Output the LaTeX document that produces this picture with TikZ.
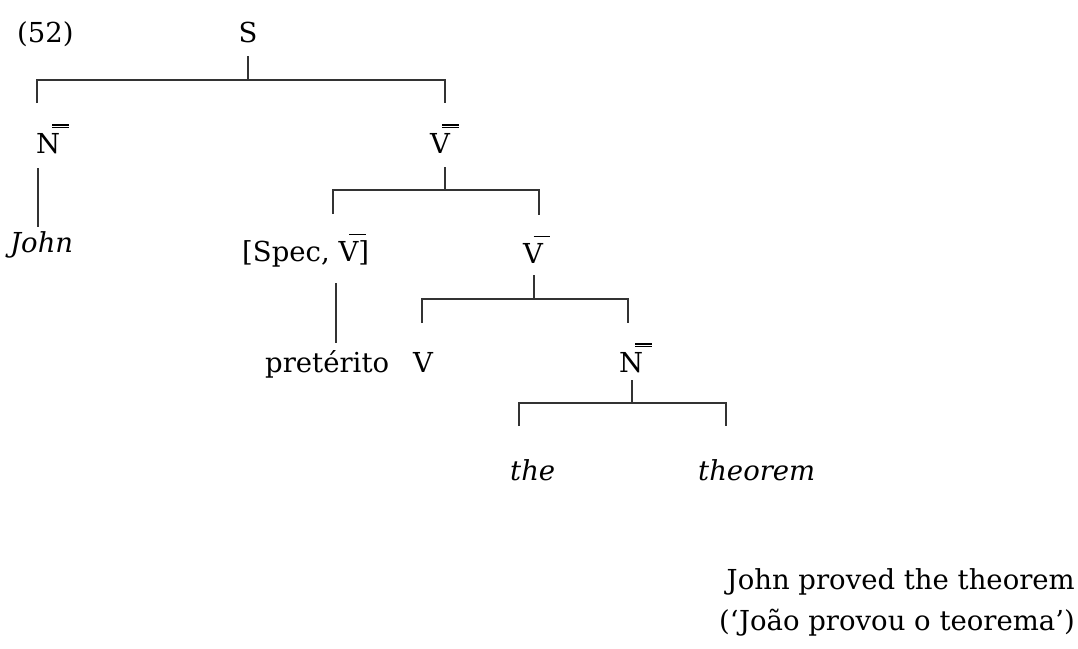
\documentclass[tikz,border=0pt]{standalone}
\usepackage{fontspec}
\setmainfont{DejaVu Serif}
\usepackage{tikz}
\usetikzlibrary{positioning}

% bars over a category label
\newcommand{\sbar}[1]{#1\makebox[0pt][l]{\kern-0.34em\rule[0.93em]{0.6em}{0.05em}}}
\newcommand{\dbar}[1]{#1\makebox[0pt][l]{\kern-0.3em\rule[0.9em]{0.62em}{0.05em}}%
  \makebox[0pt][l]{\kern-0.3em\rule[1.0em]{0.62em}{0.05em}}}

\tikzset{
  lbl/.style={inner sep=0pt, anchor=base west, font=\fontsize{27.5}{33}\selectfont},
  branch/.style={line width=1.4pt, black!80}
}

\begin{document}
\begin{tikzpicture}[x=1pt, y=-1pt]
  \useasboundingbox (0,0) rectangle (1078,648);
  \node[lbl] (nEx) at (17,42) {(52)};
  \node[lbl, anchor=base] (nS) at (248,42) {S};
  \node[lbl] (nNa) at (36,153) {\dbar{N}};
  \node[lbl] (nVa) at (430,153) {\dbar{V}};
  \node[lbl] (nJohn) at (10,252) {\itshape John};
  \node[lbl] (nSpec) at (242,261) {[Spec, \sbar{V}]};
  \node[lbl] (nVb) at (523,263) {\sbar{V}};
  \node[lbl] (nPret) at (265,372) {pretérito};
  \node[lbl] (nV) at (413,372) {V};
  \node[lbl] (nNb) at (619,372) {\dbar{N}};
  \node[lbl] (nThe) at (510,480) {\itshape the};
  \node[lbl] (nTheorem) at (698,480) {\itshape theorem};
  \node[lbl, anchor=base east] (nGloss) at (1075,589) {John proved the theorem};
  \node[lbl, anchor=base east] (nTrans) at (1075,630) {(‘João provou o teorema’)};

  % forks
  \coordinate (sL) at (37,80);
  \coordinate (sR) at (445,80);
  \coordinate (vaL) at (333,190);
  \coordinate (vaR) at (539,190);
  \coordinate (vbL) at (422,299);
  \coordinate (vbR) at (628,299);
  \coordinate (nbL) at (519,403);
  \coordinate (nbR) at (726,403);

  % S
  \draw[branch] (nS.base) ++(0,14) -- ++(0,24);
  \draw[branch] (sL) ++(0,23) -- (sL) -- (sR) -- ++(0,23);
  % N -- John
  \draw[branch] (nNa.base west) ++(2,15) -- ++(0,59);
  % V double bar
  \draw[branch] (nVa.base west) ++(15,14) -- ++(0,23);
  \draw[branch] (vaL) ++(0,24) -- (vaL) -- (vaR) -- ++(0,25);
  % Spec -- preterito
  \draw[branch] (nSpec.base west) ++(94,22) -- ++(0,60);
  % V bar
  \draw[branch] (nVb.base west) ++(11,12) -- ++(0,24);
  \draw[branch] (vbL) ++(0,24) -- (vbL) -- (vbR) -- ++(0,24);
  % N double bar
  \draw[branch] (nNb.base west) ++(13,8) -- ++(0,23);
  \draw[branch] (nbL) ++(0,23) -- (nbL) -- (nbR) -- ++(0,23);
\end{tikzpicture}
\end{document}
